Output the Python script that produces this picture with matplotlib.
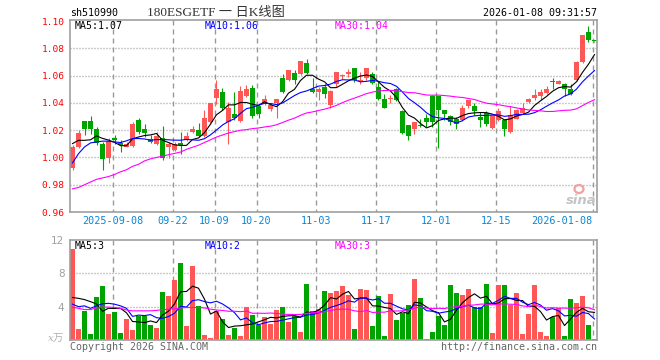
import numpy as np
import pandas as pd
import matplotlib
matplotlib.use("Agg")
import matplotlib.pyplot as plt
from matplotlib.patches import Ellipse
from matplotlib.collections import LineCollection

# ---------------- data ----------------
opens = [0.992, 1.0077, 1.0266, 1.0266, 1.0207, 1.0102, 0.9999, 1.0146, 1.0107, 1.008,
         1.0082, 1.0273, 1.021, 1.0134, 1.0097, 1.0146, 1.008, 1.0053, 1.0107, 1.0126,
         1.0185, 1.0205, 1.0156, 1.0261, 1.0433, 1.0479, 1.0261, 1.0322, 1.0266, 1.045,
         1.0513, 1.0376, 1.04, 1.0354, 1.04, 1.0584, 1.0567, 1.0621, 1.0616, 1.069,
         1.0506, 1.0481, 1.0518, 1.0383, 1.0538, 1.0596, 1.0616, 1.066, 1.056, 1.058,
         1.0616, 1.0518, 1.0432, 1.0428, 1.0499, 1.034, 1.0236, 1.0212, 1.0236, 1.0293,
         1.0452, 1.0452, 1.0347, 1.0303, 1.0285, 1.0273, 1.0376, 1.0376, 1.0298, 1.0327,
         1.0219, 1.0273, 1.0273, 1.0188, 1.0285, 1.0327, 1.0408, 1.0433, 1.045, 1.0474,
         1.056, 1.0543, 1.0543, 1.0506, 1.0567, 1.0702, 1.0918, 1.0855]
highs = [1.009, 1.0205, 1.0268, 1.0303, 1.0224, 1.0114, 1.0146, 1.0163, 1.0131, 1.0114,
         1.0261, 1.0293, 1.0244, 1.0168, 1.0188, 1.0229, 1.0114, 1.0114, 1.0188, 1.019,
         1.023, 1.025, 1.0347, 1.04, 1.0567, 1.0513, 1.0408, 1.0482, 1.0523, 1.0531,
         1.0531, 1.0383, 1.0457, 1.04, 1.0428, 1.0611, 1.0641, 1.0645, 1.0707, 1.0726,
         1.0584, 1.0518, 1.0543, 1.0494, 1.0628, 1.0616, 1.0653, 1.066, 1.0628, 1.066,
         1.0628, 1.0562, 1.0464, 1.0459, 1.0513, 1.0347, 1.0236, 1.0258, 1.0285, 1.0317,
         1.0457, 1.0452, 1.0347, 1.0315, 1.0298, 1.0384, 1.0425, 1.04, 1.0334, 1.0342,
         1.031, 1.0366, 1.0273, 1.0376, 1.0359, 1.04, 1.0433, 1.0499, 1.0499, 1.0523,
         1.058, 1.0567, 1.0548, 1.0543, 1.0709, 1.0898, 1.0964, 1.0857]
lows = [0.991, 1.007, 1.0168, 1.0175, 1.009, 0.9906, 0.996, 1.0102, 1.004, 1.0077,
        1.0077, 1.0175, 1.015, 1.0107, 1.009, 0.9979, 0.9996, 1.0048, 1.0028, 1.0119,
        1.018, 1.015, 1.015, 1.0254, 1.0396, 1.0347, 1.0102, 1.0278, 1.0261, 1.0445,
        1.0293, 1.0293, 1.0383, 1.034, 1.029, 1.0474, 1.0562, 1.0543, 1.0604, 1.0616,
        1.0474, 1.042, 1.0433, 1.0366, 1.0518, 1.0579, 1.0592, 1.0555, 1.0543, 1.0572,
        1.0543, 1.042, 1.0366, 1.04, 1.0415, 1.0175, 1.0126, 1.0175, 1.0224, 1.0224,
        1.0225, 1.007, 1.0278, 1.0237, 1.0212, 1.0268, 1.0366, 1.031, 1.0224, 1.0229,
        1.0212, 1.0268, 1.0158, 1.018, 1.028, 1.0322, 1.04, 1.0425, 1.042, 1.0464,
        1.0506, 1.0538, 1.045, 1.0457, 1.056, 1.0695, 1.0849, 1.0850]
closes = [1.008, 1.0183, 1.021, 1.021, 1.0109, 0.9989, 1.0121, 1.0126, 1.0092, 1.0102,
          1.0244, 1.0188, 1.018, 1.0114, 1.0156, 0.9996, 1.0102, 1.0097, 1.009, 1.016,
          1.021, 1.016, 1.0293, 1.04, 1.0506, 1.0366, 1.0366, 1.0293, 1.0486, 1.0506,
          1.0303, 1.0322, 1.0428, 1.0383, 1.0428, 1.0482, 1.0641, 1.0567, 1.0707, 1.0621,
          1.0481, 1.0501, 1.0469, 1.0489, 1.0624, 1.0604, 1.0628, 1.0567, 1.0567, 1.066,
          1.0548, 1.0432, 1.0366, 1.0432, 1.042, 1.018, 1.0156, 1.0258, 1.0232, 1.0261,
          1.0261, 1.0347, 1.0317, 1.0261, 1.0249, 1.0366, 1.042, 1.0342, 1.0273, 1.0244,
          1.031, 1.0342, 1.0212, 1.031, 1.0347, 1.0366, 1.0428, 1.0457, 1.0482, 1.0506,
          1.0555, 1.056, 1.0499, 1.0464, 1.0702, 1.0898, 1.0861, 1.0852]
volumes = [10.9, 1.38, 3.46, 0.73, 5.16, 6.5, 3.17, 3.33, 0.85, 2.48,
           1.26, 2.93, 2.93, 1.83, 1.5, 5.77, 5.28, 7.24, 9.19, 1.63,
           8.94, 4.07, 0.65, 0.28, 3.46, 2.5, 0.6, 1.5, 0.5, 4.0,
           3.05, 1.83, 2.76, 1.95, 3.66, 3.94, 2.2, 2.93, 1.0, 6.7,
           3.54, 3.74, 5.85, 5.6, 5.85, 6.46, 5.37, 1.34, 6.1, 5.98,
           1.7, 5.24, 0.49, 5.49, 2.44, 3.25, 4.15, 7.32, 5.0, 0.12,
           0.98, 2.93, 1.83, 6.59, 5.6, 5.37, 6.1, 4.02, 4.02, 6.7,
           0.85, 6.59, 6.59, 4.15, 5.6, 0.73, 3.17, 6.59, 0.98, 0.49,
           2.8, 3.9, 0.49, 4.88, 4.5, 5.24, 1.83, 0.12]

# moving-average values before each window is full
ma5_head = [1.0102, 1.0126, 1.0126, 1.013]
ma10_head = [0.996, 1.0028, 1.0077, 1.0107, 1.0114, 1.012, 1.012, 1.0114, 1.011]
ma30_head = [0.977, 0.978, 0.980, 0.982, 0.984, 0.985, 0.986, 0.9875, 0.9895, 0.991,
             0.9935, 0.995, 0.9975, 0.999, 1.000, 1.001, 1.002, 1.003, 1.004, 1.006,
             1.0075, 1.009, 1.011, 1.013, 1.015, 1.0165, 1.018, 1.019, 1.020]
vma5_head = [5.1, 5.0, 4.85, 4.6]
vma10_head = [4.3, 4.0, 4.1, 3.8, 4.1, 4.35, 4.4, 4.3, 4.1]
vma30_head = [3.95, 3.8, 3.65, 3.65, 3.85, 3.95, 3.95, 3.9, 3.8, 3.6,
              3.5, 3.5, 3.5, 3.5, 3.55, 3.65, 3.7, 3.75, 3.85, 3.9,
              3.9, 3.9, 3.85, 3.7, 3.6, 3.55, 3.45, 3.45, 3.4]

tick_idx = [7, 17, 24, 31, 41, 51, 61, 71, 87]
tick_labels = ["2025-09-08", "09-22", "10-09", "10-20", "11-03",
               "11-17", "12-01", "12-15", "2026-01-08"]
price_ticks = [0.96, 0.98, 1.00, 1.02, 1.04, 1.06, 1.08, 1.10]
vol_ticks = [4, 8, 12]

symbol = "sh510990"
title = "180ESGETF 一 日K线图"
stamp = "2026-01-08 09:31:57"

# ---------------- styling ----------------
RED = "#ff5656"
GREEN = "#00a400"
GRID = "#999999"
SPINE = "#a0a0a0"
MONO = "DejaVu Sans Mono"
W, H = 660, 360


def ma(values, n, head):
    s = pd.Series(values, dtype=float).rolling(n).mean().to_numpy()
    s[: n - 1] = head
    return s


o = np.array(opens); h = np.array(highs); l = np.array(lows); c = np.array(closes)
v = np.array(volumes)
n = len(c)
x = np.arange(n)
up = c > o
cols = np.where(up, RED, GREEN)

ma5 = ma(c, 5, ma5_head); ma10 = ma(c, 10, ma10_head); ma30 = ma(c, 30, ma30_head)
vma5 = ma(v, 5, vma5_head); vma10 = ma(v, 10, vma10_head); vma30 = ma(v, 30, vma30_head)

fig = plt.figure(figsize=(W / 100, H / 100), dpi=100)
fig.patch.set_facecolor("white")


def fx(px):
    return px / W


def fy(py):
    return 1 - py / H


ax = fig.add_axes([fx(70), fy(212), fx(527), 192 / H])
axv = fig.add_axes([fx(70), fy(340), fx(527), 100 / H])

xlim = (-2.5 / 6, (597 - 72.5) / 6)
grid_x = np.array(tick_idx) - 2.0 / 6
PX_X = (xlim[1] - xlim[0]) / 527.0   # one pixel in x data units


def draw_grid(a, ylo, yhi, height_px, hy):
    """Dashed vertical lines (5 px on / 4 px off) and dotted horizontal lines
    (1 px on / 2 px off), built from short solid segments."""
    py = (yhi - ylo) / height_px
    segs = []
    for gx in grid_x:
        y = yhi
        while y > ylo:
            segs.append([(gx, y), (gx, max(y - 5 * py, ylo))])
            y -= 9 * py
    for gy in hy:
        xx = xlim[0]
        while xx < xlim[1]:
            segs.append([(xx, gy), (xx + 1.2 * PX_X, gy)])
            xx += 3 * PX_X
    a.add_collection(LineCollection(segs, colors=GRID, linewidths=1.0,
                                    linestyles="solid", zorder=1,
                                    capstyle="butt"))


for a in (ax, axv):
    for s in a.spines.values():
        s.set_color(SPINE)
        s.set_linewidth(1.2)
        s.set_zorder(6)

# ----- price panel -----
PY0, PY1 = 0.96, 1.1009
draw_grid(ax, PY0, PY1, 192, price_ticks[1:-1])
ax.vlines(x, l, h, colors=cols, lw=0.8, zorder=2)
body = np.maximum(np.abs(c - o), 0.0007)
ax.bar(x, body, bottom=np.minimum(o, c), width=5 / 6, color=cols,
       linewidth=0, zorder=3)
ax.plot(x, ma5, color="black", lw=0.8, zorder=4)
ax.plot(x, ma10, color="#0000ff", lw=0.8, zorder=4)
ax.plot(x, ma30, color="#ff00ff", lw=0.8, zorder=4)
ax.set_ylim(PY0, PY1)
ax.set_xlim(*xlim)
ax.set_yticks(price_ticks)
ax.set_yticklabels([f"{p:.2f}" for p in price_ticks], color="#ff0000",
                   fontsize=6.8, family=MONO)
ax.set_xticks(grid_x)
ax.set_xticklabels(tick_labels, color="#0a86d6", fontsize=7.3, family=MONO)
ax.get_xticklabels()[-1].set_horizontalalignment("right")
ax.tick_params(axis="both", length=0)
ax.tick_params(axis="y", pad=4)
ax.tick_params(axis="x", pad=3)


def trunc2(val):
    return np.floor(val * 100) / 100


ax.text(fx(75), fy(26), f"MA5:{trunc2(ma5[-1]):.2f}", transform=fig.transFigure,
        color="black", fontsize=7.1, family=MONO, va="center")
ax.text(fx(205), fy(26), f"MA10:{trunc2(ma10[-1]):.2f}", transform=fig.transFigure,
        color="#0000ff", fontsize=7.1, family=MONO, va="center")
ax.text(fx(335), fy(26), f"MA30:{trunc2(ma30[-1]):.2f}", transform=fig.transFigure,
        color="#ff00ff", fontsize=7.1, family=MONO, va="center")

# sina watermark
fig.text(fx(581), fy(201), "sina", color="#c4c4c4", fontsize=9.5, style="italic",
         weight="bold", ha="center", va="center", family="DejaVu Sans")
fig.add_artist(Ellipse((fx(579), fy(189)), 9 / W, 8 / H, transform=fig.transFigure,
                       facecolor="none", edgecolor="#f2a0a0", lw=1.6))

# ----- volume panel -----
draw_grid(axv, 0, 12, 100, vol_ticks[:-1])
axv.bar(x, v, width=5 / 6, color=cols, linewidth=0, zorder=2)
axv.plot(x, vma5, color="black", lw=0.8, zorder=4)
axv.plot(x, vma10, color="#0000ff", lw=0.8, zorder=4)
axv.plot(x, vma30, color="#ff00ff", lw=0.8, zorder=4)
axv.set_ylim(0, 12)
axv.set_xlim(*xlim)
axv.set_yticks(vol_ticks)
axv.set_yticklabels([str(t) for t in vol_ticks], color="#a0a0a0", fontsize=7.5,
                    family="DejaVu Sans")
axv.set_xticks([])
axv.tick_params(axis="both", length=0)
axv.tick_params(axis="y", pad=4)
fig.text(fx(64), fy(339), "x万", color="#b0b0b0", fontsize=7.5, ha="right",
         va="center", family=["DejaVu Serif", "Noto Sans CJK SC"], style="italic")

fig.text(fx(75), fy(246), f"MA5:{int(vma5[-1])}", color="black", fontsize=7.1,
         family=MONO, va="center")
fig.text(fx(205), fy(246), f"MA10:{int(vma10[-1])}", color="#0000ff", fontsize=7.1,
         family=MONO, va="center")
fig.text(fx(335), fy(246), f"MA30:{int(vma30[-1])}", color="#ff00ff", fontsize=7.1,
         family=MONO, va="center")

# ----- header / footer -----
fig.text(fx(70), fy(13), symbol, color="black", fontsize=7.2, family=MONO,
         va="center", ha="left")
fig.text(fx(216), fy(13), title, color="#333333", fontsize=9.5,
         family=["Liberation Serif", "Noto Sans CJK SC"], va="center", ha="center")
fig.text(fx(597), fy(13), stamp, color="black", fontsize=7.2, family=MONO,
         va="center", ha="right")
fig.text(fx(70), fy(347), "Copyright 2026 SINA.COM", color="#666666", fontsize=7.2,
         family=MONO, va="center", ha="left")
fig.text(fx(597), fy(347), "http://finance.sina.com.cn", color="#666666",
         fontsize=7.2, family=MONO, va="center", ha="right")

fig.savefig("out.png", dpi=100, facecolor="white")
